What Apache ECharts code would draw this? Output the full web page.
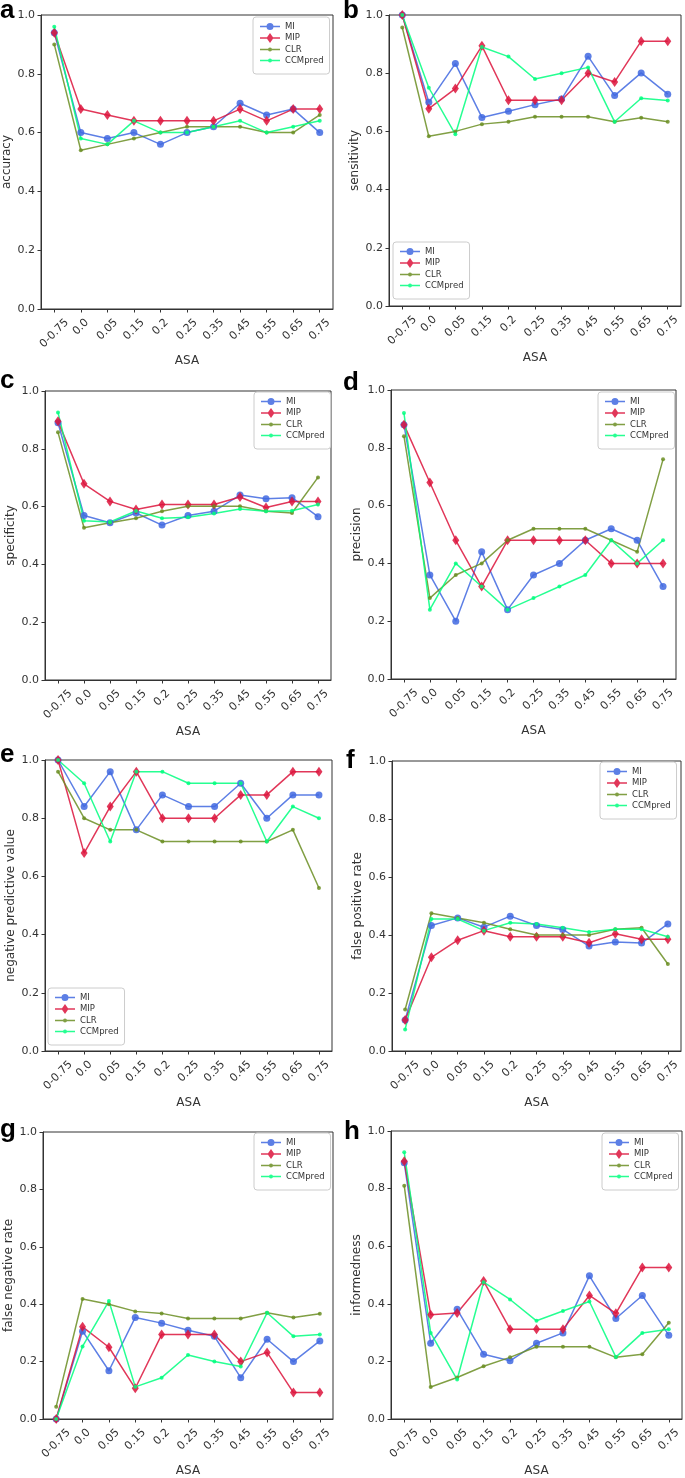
<!DOCTYPE html>
<html><head><meta charset="utf-8">
<script src="https://cdn.jsdelivr.net/npm/echarts@6/dist/echarts.min.js"></script>
<style>html,body{margin:0;padding:0;background:#fff}#c{width:685px;height:1478px}</style>
</head><body><div id="c"></div>
<script>
const categories = ['0-0.75','0.0','0.05','0.15','0.2','0.25','0.35','0.45','0.55','0.65','0.75'];
const methods = ['MI','MIP','CLR','CCMpred'];
const yTicks = [0, 0.2, 0.4, 0.6, 0.8, 1.0];

const accuracyMI  = [0.94,0.60,0.58,0.60,0.56,0.60,0.62,0.70,0.66,0.68,0.60];
const accuracyMIP = [0.94,0.68,0.66,0.64,0.64,0.64,0.64,0.68,0.64,0.68,0.68];
const accuracyCLR = [0.90,0.54,0.56,0.58,0.60,0.62,0.62,0.62,0.60,0.60,0.66];
const accuracyCCM = [0.96,0.58,0.56,0.64,0.60,0.60,0.62,0.64,0.60,0.62,0.64];

const sensitivityMI  = [1.0,0.70,0.833,0.648,0.669,0.692,0.711,0.858,0.723,0.801,0.728];
const sensitivityMIP = [1.0,0.678,0.747,0.894,0.707,0.707,0.707,0.80,0.77,0.91,0.91];
const sensitivityCLR = [0.957,0.583,0.60,0.625,0.633,0.65,0.65,0.65,0.633,0.647,0.633];
const sensitivityCCM = [1.0,0.75,0.59,0.89,0.857,0.78,0.80,0.82,0.633,0.714,0.706];

const specificityMI  = [0.89,0.569,0.544,0.578,0.536,0.569,0.584,0.64,0.627,0.631,0.565];
const specificityMIP = [0.895,0.679,0.618,0.59,0.607,0.607,0.607,0.633,0.597,0.618,0.618];
const specificityCLR = [0.857,0.527,0.544,0.56,0.584,0.601,0.601,0.601,0.584,0.578,0.701];
const specificityCCM = [0.926,0.551,0.547,0.585,0.56,0.563,0.576,0.592,0.584,0.586,0.607];

const precisionMI  = [0.88,0.36,0.20,0.44,0.24,0.36,0.40,0.48,0.52,0.48,0.32];
const precisionMIP = [0.88,0.68,0.48,0.32,0.48,0.48,0.48,0.48,0.40,0.40,0.40];
const precisionCLR = [0.84,0.28,0.36,0.40,0.48,0.52,0.52,0.52,0.48,0.44,0.76];
const precisionCCM = [0.92,0.24,0.40,0.32,0.24,0.28,0.32,0.36,0.48,0.40,0.48];

const npvMI  = [1.0,0.84,0.96,0.76,0.88,0.84,0.84,0.92,0.80,0.88,0.88];
const npvMIP = [1.0,0.68,0.84,0.96,0.80,0.80,0.80,0.88,0.88,0.96,0.96];
const npvCLR = [0.96,0.80,0.76,0.76,0.72,0.72,0.72,0.72,0.72,0.76,0.56];
const npvCCM = [1.0,0.92,0.72,0.96,0.96,0.92,0.92,0.92,0.72,0.84,0.80];

const fprMI  = [0.107,0.433,0.459,0.427,0.465,0.433,0.419,0.362,0.376,0.372,0.438];
const fprMIP = [0.107,0.323,0.382,0.415,0.394,0.394,0.394,0.373,0.404,0.385,0.385];
const fprCLR = [0.143,0.475,0.459,0.442,0.42,0.40,0.40,0.40,0.42,0.425,0.30];
const fprCCM = [0.074,0.455,0.455,0.415,0.442,0.438,0.425,0.41,0.42,0.42,0.394];

const fnrMI  = [0.0,0.306,0.168,0.354,0.334,0.309,0.288,0.144,0.278,0.20,0.272];
const fnrMIP = [0.0,0.321,0.25,0.107,0.294,0.294,0.294,0.20,0.232,0.092,0.092];
const fnrCLR = [0.043,0.418,0.40,0.375,0.368,0.35,0.35,0.35,0.37,0.354,0.367];
const fnrCCM = [0.0,0.253,0.411,0.112,0.144,0.223,0.20,0.183,0.37,0.288,0.294];

const infMI  = [0.89,0.263,0.381,0.225,0.202,0.263,0.299,0.497,0.349,0.429,0.291];
const infMIP = [0.895,0.362,0.368,0.479,0.312,0.312,0.312,0.429,0.367,0.526,0.526];
const infCLR = [0.81,0.111,0.144,0.183,0.214,0.251,0.251,0.251,0.214,0.225,0.334];
const infCCM = [0.926,0.299,0.137,0.475,0.415,0.341,0.375,0.408,0.215,0.299,0.312];

const LW = 77; // legend box width
const panels = [
  {letter:'a', yName:'accuracy', data:[accuracyMI,accuracyMIP,accuracyCLR,accuracyCCM],
   grid:{left:41,top:15,width:292,height:294}, legend:{left:330-LW,top:17}, lx:0, ly:-2},
  {letter:'b', yName:'sensitivity', data:[sensitivityMI,sensitivityMIP,sensitivityCLR,sensitivityCCM],
   grid:{left:389,top:15,width:292,height:291}, legend:{left:393,top:242}, lx:343, ly:-2},
  {letter:'c', yName:'specificity', data:[specificityMI,specificityMIP,specificityCLR,specificityCCM],
   grid:{left:45,top:391,width:286,height:289}, legend:{left:331-LW,top:392}, lx:0, ly:368},
  {letter:'d', yName:'precision', data:[precisionMI,precisionMIP,precisionCLR,precisionCCM],
   grid:{left:391,top:390,width:285,height:289}, legend:{left:675-LW,top:392}, lx:343, ly:370},
  {letter:'e', yName:'negative predictive value', data:[npvMI,npvMIP,npvCLR,npvCCM],
   grid:{left:45,top:760,width:287,height:291}, legend:{left:48,top:988}, lx:0, ly:742},
  {letter:'f', yName:'false positive rate', data:[fprMI,fprMIP,fprCLR,fprCCM],
   grid:{left:392,top:761,width:289,height:290}, legend:{left:677-LW,top:762}, lx:346, ly:748},
  {letter:'g', yName:'false negative rate', data:[fnrMI,fnrMIP,fnrCLR,fnrCCM],
   grid:{left:43,top:1132,width:290,height:290}, legend:{left:331-LW,top:1133}, lx:0, ly:1117},
  {letter:'h', yName:'informedness', data:[infMI,infMIP,infCLR,infCCM],
   grid:{left:391,top:1131,width:291,height:291}, legend:{left:679-LW,top:1133}, lx:344, ly:1119}
];

const styles = [
  {color:'#4169E1', symbol:'circle', size:7,
   icon:'path://M0,2.75H20V4.25H0Z M6.5,3.5A3.5,3.5 0 1 1 13.5,3.5A3.5,3.5 0 1 1 6.5,3.5Z'},
  {color:'#DC143C', symbol:'diamond', size:[7,10],
   icon:'path://M0,4.25H20V5.75H0Z M10,0L13.5,5L10,10L6.5,5Z'},
  {color:'#6B8E23', symbol:'circle', size:4,
   icon:'path://M0,1.25H20V2.75H0Z M8,2A2,2 0 1 1 12,2A2,2 0 1 1 8,2Z'},
  {color:'#00FF7F', symbol:'circle', size:4,
   icon:'path://M0,1.25H20V2.75H0Z M8,2A2,2 0 1 1 12,2A2,2 0 1 1 8,2Z'}
];

const FONT = 'DejaVu Sans';
const AX = '#333';

// rich padding so that rotated labels are centred under their ticks (matplotlib style)
const rich = {
  p3:{padding:[0,0,0,0], fontSize:11, color:AX, fontFamily:FONT},
  p4:{padding:[3.5,3.5,0,0], fontSize:11, color:AX, fontFamily:FONT},
  p6:{padding:[9,9,0,0], fontSize:11, color:AX, fontFamily:FONT}
};

const option = {
  animation:false,
  backgroundColor:'#fff',
  textStyle:{fontFamily:FONT},
  grid: panels.map(p => Object.assign({show:true, borderColor:AX, borderWidth:1, backgroundColor:'transparent'}, p.grid)),
  xAxis: panels.map((p,i) => ({
    type:'category', gridIndex:i, data:categories, boundaryGap:true,
    name:'ASA', nameLocation:'middle', nameGap:46,
    nameTextStyle:{fontSize:12, color:AX, fontFamily:FONT},
    axisLine:{show:true, lineStyle:{color:AX, width:1}},
    axisTick:{show:true, alignWithLabel:true, length:3.5, lineStyle:{color:AX}},
    axisLabel:{interval:0, rotate:45, align:'center', verticalAlign:'middle', margin:18,
      fontSize:11, color:AX, fontFamily:FONT,
      formatter: v => '{p' + Math.min(6, Math.max(3, v.length)) + '|' + v + '}', rich: rich},
    splitLine:{show:false}
  })),
  yAxis: panels.map((p,i) => ({
    type:'value', gridIndex:i, min:yTicks[0], max:yTicks[yTicks.length-1], interval:0.2,
    name:p.yName, nameLocation:'middle', nameGap:28, nameRotate:90,
    nameTextStyle:{fontSize:12, color:AX, fontFamily:FONT},
    axisLine:{show:true, lineStyle:{color:AX, width:1}},
    axisTick:{show:true, length:3.5, lineStyle:{color:AX}},
    axisLabel:{fontSize:11, color:AX, fontFamily:FONT, margin:6, formatter: v => v.toFixed(1)},
    splitLine:{show:false}
  })),
  legend: panels.map(p => ({
    data: methods.map((m,j) => ({name:m, icon:styles[j].icon})),
    orient:'vertical', left:p.legend.left, top:p.legend.top,
    itemWidth:20, itemHeight:10, itemGap:2, padding:[5,6,9,7],
    symbolKeepAspect:true,
    itemStyle:{borderWidth:0},
    borderColor:'#ccc', borderWidth:1, borderRadius:3, backgroundColor:'#fff',
    selectedMode:false,
    textStyle:{fontSize:8.5, color:AX, fontFamily:FONT}
  })),
  graphic: panels.map(p => ({
    type:'text', left:p.lx, top:p.ly,
    style:{text:p.letter, font:'bold 26px "Liberation Sans", Arial, sans-serif', fill:'#000'}
  })),
  series: []
};

panels.forEach((p,i) => {
  methods.forEach((m,j) => {
    const s = styles[j];
    option.series.push({
      type:'line', name:m, xAxisIndex:i, yAxisIndex:i, data:p.data[j],
      symbol:s.symbol, symbolSize:s.size, showSymbol:true,
      lineStyle:{color:s.color, width:1.5, opacity:0.85},
      itemStyle:{color:s.color, opacity:0.85},
      emphasis:{disabled:true}, clip:false
    });
  });
});

const chart = echarts.init(document.getElementById('c'), null, {renderer:'canvas'});
chart.setOption(option);
</script>
</body></html>
